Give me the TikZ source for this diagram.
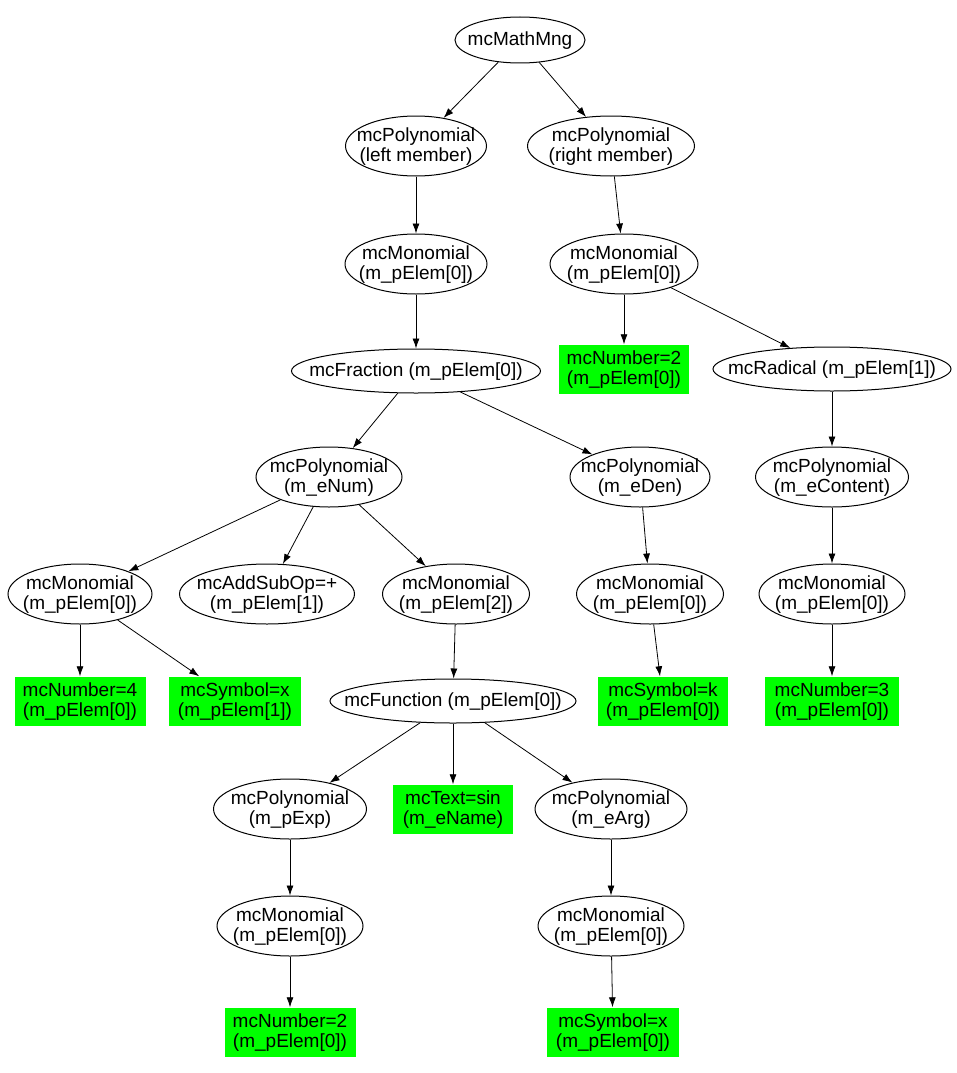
\documentclass[tikz,border=0pt]{standalone}
\usepackage{fontspec}
\setmainfont{Liberation Sans}
\usetikzlibrary{shapes.geometric,arrows.meta}
\definecolor{boxgreen}{RGB}{0,255,0}
\newcommand{\zt}[1]{\smash{\makebox[0pt]{\raisebox{-6pt}{\begin{tabular}{@{}c@{}}#1\end{tabular}}}}}
\tikzset{
  ell/.style={draw, ellipse, line width=1pt, inner sep=0pt, minimum height=60pt},
  ellone/.style={ell, minimum height=44pt},
  gbox/.style={rectangle, fill=boxgreen, inner sep=0pt, minimum height=49pt},
  edge/.style={line width=0.8pt, -{Latex[length=10pt,width=7pt]}},
}
\begin{document}
\begin{tikzpicture}[x=1pt,y=-1pt,font=\fontsize{19}{19.3}\selectfont]
\useasboundingbox (0,0) rectangle (956,1073);
\fill[white] (0,0) rectangle (956,1073);
% nodes
\node[ell, minimum width=130pt, minimum height=46pt] (math) at (520,40) {\zt{mcMathMng}};
\node[ell, minimum width=141pt] (polyL) at (416,146) {\zt{mcPolynomial\\(left member)}};
\node[ell, minimum width=167pt] (polyR) at (611,146) {\zt{mcPolynomial\\(right member)}};
\node[ell, minimum width=142pt] (monoL) at (416,264) {\zt{mcMonomial\\(m\_pElem[0])}};
\node[ell, minimum width=148pt] (monoR) at (624,264) {\zt{mcMonomial\\(m\_pElem[0])}};
\node[ellone, minimum width=249pt] (frac) at (416,371) {\zt{mcFraction (m\_pElem[0])}};
\node[gbox, minimum width=130pt] (numR) at (624,369) {\zt{mcNumber=2\\(m\_pElem[0])}};
\node[ellone, minimum width=238pt] (rad) at (832,369) {\zt{mcRadical (m\_pElem[1])}};
\node[ell, minimum width=146pt] (polyNum) at (329,477) {\zt{mcPolynomial\\(m\_eNum)}};
\node[ell, minimum width=140pt] (polyDen) at (640,477) {\zt{mcPolynomial\\(m\_eDen)}};
\node[ell, minimum width=153pt] (polyCon) at (832,477) {\zt{mcPolynomial\\(m\_eContent)}};
\node[ell, minimum width=144pt] (mono0) at (80,594) {\zt{mcMonomial\\(m\_pElem[0])}};
\node[ell, minimum width=175pt] (addsub) at (267,594) {\zt{mcAddSubOp=+\\(m\_pElem[1])}};
\node[ell, minimum width=147pt] (mono2) at (456,594) {\zt{mcMonomial\\(m\_pElem[2])}};
\node[ell, minimum width=147pt] (monoDen) at (650,594) {\zt{mcMonomial\\(m\_pElem[0])}};
\node[ell, minimum width=146pt] (monoCon) at (832,594) {\zt{mcMonomial\\(m\_pElem[0])}};
\node[gbox, minimum width=131pt] (num4) at (80,701) {\zt{mcNumber=4\\(m\_pElem[0])}};
\node[gbox, minimum width=132pt] (symx) at (235,701) {\zt{mcSymbol=x\\(m\_pElem[1])}};
\node[ellone, minimum width=246pt] (func) at (453,701) {\zt{mcFunction (m\_pElem[0])}};
\node[gbox, minimum width=130pt] (symk) at (663,701) {\zt{mcSymbol=k\\(m\_pElem[0])}};
\node[gbox, minimum width=134pt] (num3) at (832,701) {\zt{mcNumber=3\\(m\_pElem[0])}};
\node[ell, minimum width=153pt] (polyExp) at (290,809) {\zt{mcPolynomial\\(m\_pExp)}};
\node[gbox, minimum width=120pt] (sin) at (453,809) {\zt{mcText=sin\\(m\_eName)}};
\node[ell, minimum width=152pt] (polyArg) at (611,809) {\zt{mcPolynomial\\(m\_eArg)}};
\node[ell, minimum width=146pt] (monoExp) at (290,926) {\zt{mcMonomial\\(m\_pElem[0])}};
\node[ell, minimum width=146pt] (monoArg) at (611,926) {\zt{mcMonomial\\(m\_pElem[0])}};
\node[gbox, minimum width=131pt] (num2) at (290,1032) {\zt{mcNumber=2\\(m\_pElem[0])}};
\node[gbox, minimum width=132pt] (symx2) at (613,1032) {\zt{mcSymbol=x\\(m\_pElem[0])}};
% edges
\draw[edge] (math) -- (polyL);
\draw[edge] (math) -- (polyR);
\draw[edge] (polyL) -- (monoL);
\draw[edge] (polyR) -- (monoR);
\draw[edge] (monoL) -- (frac);
\draw[edge] (monoR) -- (numR);
\draw[edge] (monoR) -- (rad);
\draw[edge] (frac) -- (polyNum);
\draw[edge] (frac) -- (polyDen);
\draw[edge] (rad) -- (polyCon);
\draw[edge] (polyNum) -- (mono0);
\draw[edge] (polyNum) -- (addsub);
\draw[edge] (polyNum) -- (mono2);
\draw[edge] (polyDen) -- (monoDen);
\draw[edge] (polyCon) -- (monoCon);
\draw[edge] (mono0) -- (num4);
\draw[edge] (mono0) -- (symx);
\draw[edge] (mono2) -- (func);
\draw[edge] (monoDen) -- (symk);
\draw[edge] (monoCon) -- (num3);
\draw[edge] (func) -- (polyExp);
\draw[edge] (func) -- (sin);
\draw[edge] (func) -- (polyArg);
\draw[edge] (polyExp) -- (monoExp);
\draw[edge] (polyArg) -- (monoArg);
\draw[edge] (monoExp) -- (num2);
\draw[edge] (monoArg) -- (symx2);
\end{tikzpicture}
\end{document}
